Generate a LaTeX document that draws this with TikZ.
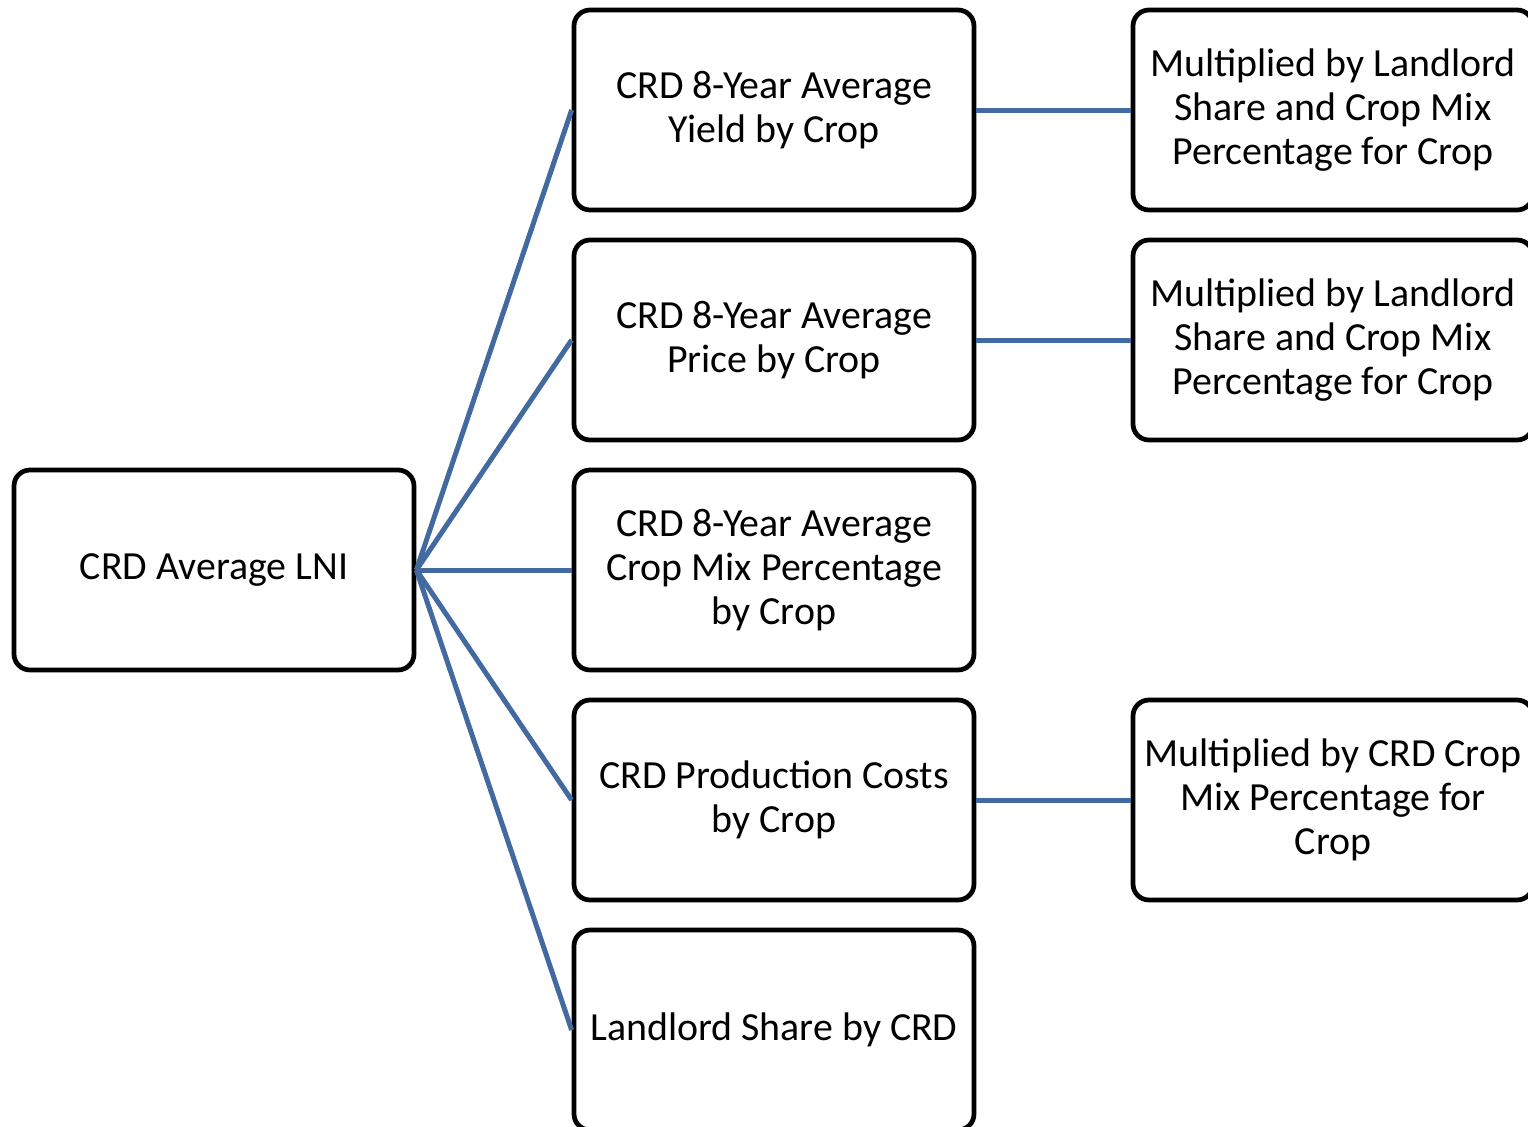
\documentclass[tikz,border=0pt]{standalone}
\usepackage{fontspec}
\setmainfont{Carlito}
\usepackage{tikz}
\usetikzlibrary{calc,positioning}
\definecolor{linkblue}{RGB}{66,106,160}

\begin{document}
\begin{tikzpicture}[
        box/.style={draw=black, line width=0.095cm, rounded corners=0.32cm,
            minimum width=8cm, minimum height=4cm, align=center,
            font=\fontsize{22.7}{25}\selectfont},
        link/.style={draw=linkblue, line width=0.1cm}]
        \useasboundingbox (0,0) rectangle (30.56,-22.54);
        \node[box] (lni) at (4.28,-11.4) {CRD Average LNI};
        \node[box] (yield) at (15.48,-2.2) {CRD 8-Year Average\\Yield by Crop};
        \node[box] (price) at (15.48,-6.8) {CRD 8-Year Average\\Price by Crop};
        \node[box] (mix) at (15.48,-11.4) {CRD 8-Year Average\\Crop Mix Percentage\\by Crop};
        \node[box] (cost) at (15.48,-16) {CRD Production Costs\\by Crop};
        \node[box] (share) at (15.48,-20.6) {Landlord Share by CRD};
        \node[box] (yieldx) at (26.66,-2.2) {Multiplied by Landlord\\Share and Crop Mix\\Percentage for Crop};
        \node[box] (pricex) at (26.66,-6.8) {Multiplied by Landlord\\Share and Crop Mix\\Percentage for Crop};
        \node[box] (costx) at (26.66,-16) {Multiplied by CRD Crop\\Mix Percentage for\\Crop};
        \foreach \n in {yield,price,mix,cost,share}
        \draw[link] (lni.east) -- (\n.west);
        \foreach \a/\b in {yield/yieldx,price/pricex,cost/costx}
        \draw[link] (\a.east) -- (\b.west);
    \end{tikzpicture}
\end{document}
